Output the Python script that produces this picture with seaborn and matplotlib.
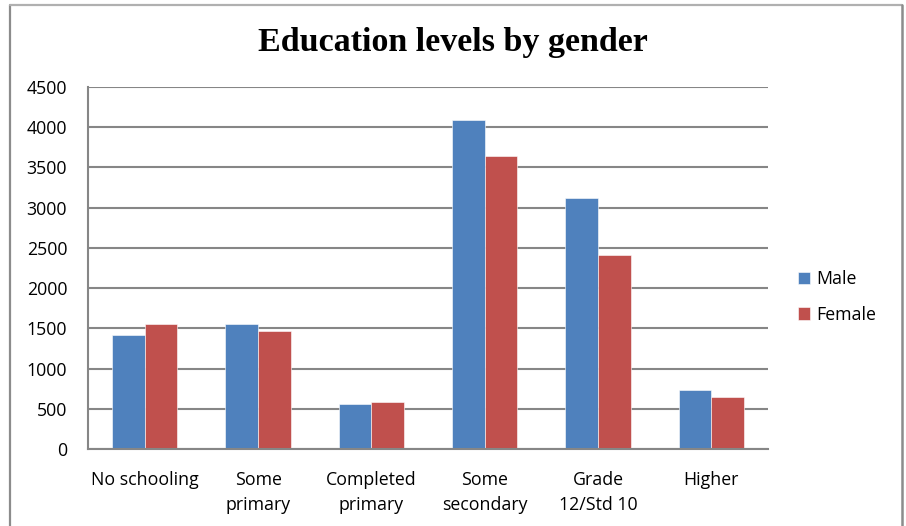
import matplotlib
matplotlib.use("Agg")
import matplotlib.pyplot as plt
import seaborn as sns
import pandas as pd
from matplotlib.lines import Line2D

categories = ["No schooling", "Some\nprimary", "Completed\nprimary", "Some\nsecondary", "Grade\n12/Std 10", "Higher"]
male = [1420, 1550, 560, 4085, 3125, 730]
female = [1560, 1465, 590, 3640, 2410, 645]
series = ["Male", "Female"]
colors = ["#4F81BD", "#C0504D"]
yticks = [0, 500, 1000, 1500, 2000, 2500, 3000, 3500, 4000, 4500]

df = pd.DataFrame({
    "Category": categories * 2,
    "Gender": ["Male"] * len(categories) + ["Female"] * len(categories),
    "Value": male + female,
})

sns.set_style("white")
plt.rcParams["font.family"] = ["Open Sans", "DejaVu Sans"]
plt.rcParams["text.color"] = "#000000"

fig = plt.figure(figsize=(9.06, 5.26), dpi=100)
ax = fig.add_axes([88/906, 1 - 449/526, (768-88)/906, (449-87)/526])

sns.barplot(data=df, x="Category", y="Value", hue="Gender", order=categories,
            hue_order=series, palette=colors, width=0.575, gap=0, ax=ax,
            edgecolor="white", linewidth=0.4, saturation=1)

ax.set_ylim(0, 4500)
ax.set_xlim(-0.5, len(categories) - 0.5)
ax.set_yticks(yticks)
ax.set_yticklabels([str(v) for v in yticks])
ax.yaxis.grid(True, color="#868686", linewidth=1.5)
ax.set_axisbelow(True)
ax.set_xlabel("")
ax.set_ylabel("")
for s in ["top", "right"]:
    ax.spines[s].set_visible(False)
for s in ["left", "bottom"]:
    ax.spines[s].set_color("#868686")
    ax.spines[s].set_linewidth(1.5)
ax.tick_params(axis="y", length=0, pad=15, labelsize=12.8, labelcolor="#000000")
ax.tick_params(axis="x", length=0, pad=16, labelsize=12.8, labelcolor="#000000")
for lbl in ax.get_xticklabels():
    lbl.set_linespacing(1.45)

leg = ax.legend(loc="center left", bbox_to_anchor=(1.02, 0.42), frameon=False,
                fontsize=12.8, handlelength=0.7, handleheight=0.7,
                handletextpad=0.35, labelspacing=1.0)
for t in leg.get_texts():
    t.set_color("#000000")

fig.text(0.5, 1 - 43/526, "Education levels by gender", ha="center", va="center",
         fontsize=24.5, fontweight="bold", color="#000000",
         family=["Liberation Serif", "DejaVu Serif"])

border = "#8c8c8c"
fig.add_artist(Line2D([10/906, 10/906], [0, 1 - 5/526], transform=fig.transFigure, color=border, lw=1.6))
fig.add_artist(Line2D([10/906, 902/906], [1 - 5/526, 1 - 5/526], transform=fig.transFigure, color="#b0b0b0", lw=1.6))
fig.add_artist(Line2D([902/906, 902/906], [0, 1 - 5/526], transform=fig.transFigure, color=border, lw=1.8))

fig.savefig("out.png", dpi=100)
